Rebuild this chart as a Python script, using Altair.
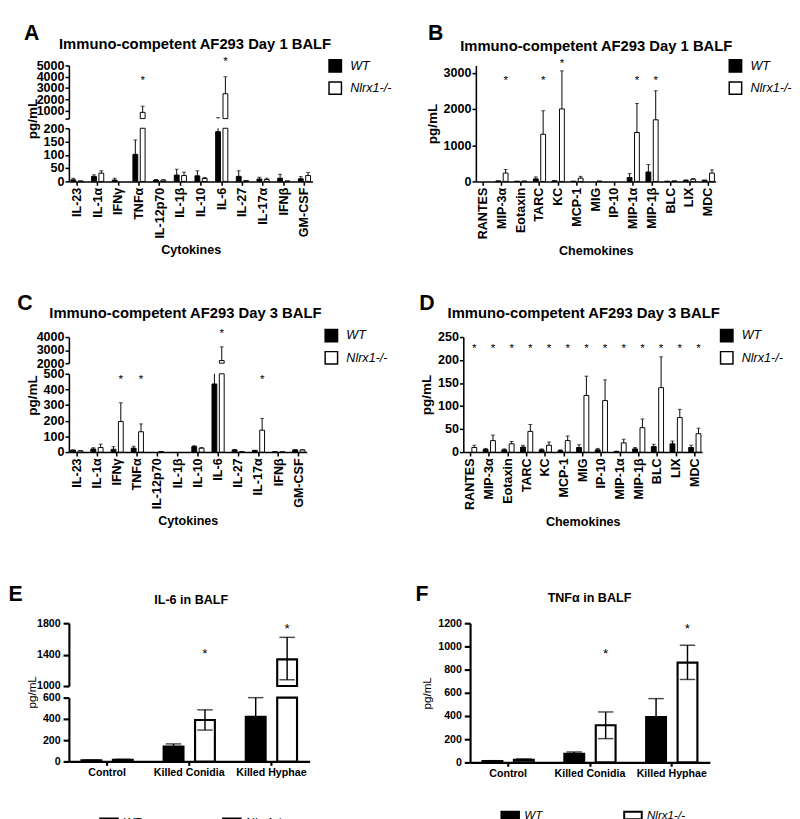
import altair as alt
import pandas as pd

FONT = "Liberation Sans"
GENO = ["WT", "Nlrx1-/-"]

cytokines = ["IL-23", "IL-1α", "IFNγ", "TNFα", "IL-12p70", "IL-1β", "IL-10",
             "IL-6", "IL-27", "IL-17α", "IFNβ", "GM-CSF"]
chemokines = ["RANTES", "MIP-3α", "Eotaxin", "TARC", "KC", "MCP-1", "MIG",
              "IP-10", "MIP-1α", "MIP-1β", "BLC", "LIX", "MDC"]
stimuli = ["Control", "Killed Conidia", "Killed Hyphae"]

# Panel A: day 1 cytokines
a_wt = [6, 19, 5, 102, 5, 24, 21, 187, 19, 9, 12, 10]
a_wt_hi = [12, 25, 12, 156, 7, 46, 40, 380, 40, 16, 27, 18]
a_ko = [2, 31, 0, 850, 5, 22, 11, 2500, 3, 7, 2, 22]
a_ko_hi = [2, 40, 0, 1400, 6, 35, 15, 4000, 3, 12, 2, 34]
a_star_cats = ["TNFα", "IL-6"]
a_star_y = [3700, 5400]

# Panel B: day 1 chemokines
b_wt = [0, 15, 5, 70, 20, 5, 0, 0, 107, 260, 5, 30, 30]
b_wt_hi = [0, 15, 5, 125, 20, 5, 0, 0, 215, 465, 5, 40, 40]
b_ko = [0, 230, 10, 1300, 2000, 90, 10, 0, 1350, 1700, 15, 60, 230]
b_ko_hi = [0, 330, 10, 1950, 3050, 140, 10, 0, 2150, 2500, 15, 80, 320]
b_star_cats = ["MIP-3α", "TARC", "KC", "MIP-1α", "MIP-1β"]
b_star_y = [2800, 2800, 3270, 2800, 2800]

# Panel C: day 3 cytokines
c_wt = [12, 20, 18, 25, 0, 0, 35, 435, 14, 10, 2, 14]
c_wt_hi = [14, 28, 35, 37, 0, 0, 41, 520, 17, 12, 2, 15]
c_ko = [8, 29, 195, 130, 3, 0, 25, 2200, 3, 140, 2, 14]
c_ko_hi = [9, 51, 315, 180, 4, 0, 29, 3250, 4, 215, 2, 15]
c_star_cats = ["IFNγ", "TNFα", "IL-6", "IL-17α"]
c_star_y = [467, 467, 4300, 467]

# Panel D: day 3 chemokines
d_wt = [0, 6, 5, 11, 5, 3, 10, 5, 1, 7, 12, 18, 10]
d_wt_hi = [0, 8, 7, 15, 7, 5, 16, 8, 2, 10, 17, 24, 15]
d_ko = [10, 25, 18, 45, 15, 25, 123, 112, 20, 53, 140, 75, 40]
d_ko_hi = [15, 37, 23, 60, 22, 35, 165, 157, 28, 72, 207, 93, 52]
d_star_cats = chemokines
d_star_y = [225] * 13

# Panel E: IL-6 in BALF (mean, upper and lower error ends)
e_wt = [10, 140, 420]
e_wt_hi = [13, 165, 600]
e_wt_lo = [7, 115, 240]
e_ko = [15, 390, 1340]
e_ko_hi = [20, 485, 1620]
e_ko_lo = [10, 295, 1080]
e_star_cats = ["Killed Conidia", "Killed Hyphae"]
e_star_y = [1400, 1720]

# Panel F: TNFα in BALF
f_wt = [12, 75, 390]
f_wt_hi = [15, 90, 550]
f_wt_lo = [9, 60, 230]
f_ko = [22, 320, 860]
f_ko_hi = [30, 435, 1010]
f_ko_lo = [14, 205, 715]
f_star_cats = ["Killed Conidia", "Killed Hyphae"]
f_star_y = [930, 1150]


def frame(cats, wt, wt_hi, ko, ko_hi, wt_lo=None, ko_lo=None):
    rows = []
    for i, c in enumerate(cats):
        rows.append({"cat": c, "g": "WT", "v": wt[i], "hi": wt_hi[i],
                     "lo": wt_lo[i] if wt_lo else wt[i]})
        rows.append({"cat": c, "g": "Nlrx1-/-", "v": ko[i], "hi": ko_hi[i],
                     "lo": ko_lo[i] if ko_lo else ko[i]})
    return pd.DataFrame(rows)


def star_frame(cats, ys):
    return pd.DataFrame({"cat": cats, "g": ["Nlrx1-/-"] * len(cats), "sy": ys})


BIG = dict(pi=0.38, po=0.08, barw=5, sep=7.6, bsw=1, esw=1, cap=4, locap=False,
           ylab=13, ytitle=14, ytw="bold", xlab=13, xtitle=13, axw=1.6,
           tick=4, lpad=1, angle=-90, star=12, tsize=15.3)
SMALL = dict(pi=0.37, po=0.15, barw=20.5, sep=32.5, bsw=2.2, esw=1.5, cap=16,
             locap=True, ylab=11, ytitle=12, ytw="normal", xlab=11, xtitle=11,
             axw=2.2, tick=6, lpad=3, angle=0, star=14, tsize=13)


def carrier(tx, ty, size, align):
    # an axis used only to hold a text label (panel letter / panel title)
    return alt.Axis(orient="left", domain=False, ticks=False, labels=False,
                    grid=False, titleAngle=0, titleX=tx, titleY=ty,
                    titleAlign=align, titleBaseline="middle", titleFontSize=size,
                    titleFontWeight="bold", titleFont=FONT, titleColor="black",
                    titleLimit=500)


def segment(df, stars, cats, dom, ticks, w, h, st, show_x, legend,
            xtitle=None, ytitle=None, title_y=None, hide_below=None,
            open_top=True, letter=None, ptitle=None):
    xax = None
    if show_x:
        xax = alt.Axis(labelAngle=st["angle"], labelFontSize=st["xlab"],
                       labelFontWeight="bold", tickSize=4,
                       tickWidth=st["axw"], domainWidth=st["axw"],
                       titleFontSize=st["xtitle"], titleFontWeight="bold",
                       labelPadding=2, titlePadding=6)
    X = alt.X("cat:N", title=xtitle,
              scale=alt.Scale(type="band", domain=cats, paddingInner=st["pi"],
                              paddingOuter=st["po"]),
              axis=xax)
    lab = "datum.label"
    if hide_below is not None:
        lab = f"datum.value < {hide_below} ? '' : datum.label"
    yax_kw = dict(values=ticks, format="d", labelExpr=lab, labelOverlap=False,
                  labelFontSize=st["ylab"], labelFontWeight="bold",
                  tickSize=st["tick"], tickWidth=st["axw"],
                  domainWidth=st["axw"], labelPadding=st["lpad"],
                  titleFontSize=st["ytitle"], titleFontWeight=st["ytw"],
                  titlePadding=4)
    if title_y is not None:
        yax_kw["titleY"] = title_y
    yax = alt.Axis(**yax_kw)

    def Y(field, axis=None, title=None, clamp=True):
        return alt.Y(field, type="quantitative", title=title,
                     scale=alt.Scale(domain=dom, clamp=clamp, nice=False,
                                     zero=False),
                     axis=axis)

    fill = alt.Fill("g:N", scale=alt.Scale(domain=GENO, range=["black", "white"]),
                    legend=legend)
    lo_d, hi_d = dom
    layers = []
    for g, off in zip(GENO, [-st["sep"] / 2, st["sep"] / 2]):
        base = alt.Chart(df).transform_filter(alt.datum.g == g)
        if g == "WT":
            bar_y = Y("v", yax, ytitle)
        elif ptitle is not None:
            bar_y = Y("v", carrier(*ptitle[:4]), ptitle[4])
        else:
            bar_y = Y("v")
        layers.append(base.transform_filter(f"datum.v > {lo_d}").transform_calculate(
            base=str(lo_d)).mark_bar(
            width=st["barw"], xOffset=off, stroke="black",
            strokeWidth=st["bsw"]).encode(x=X, y=bar_y, y2="base:Q", fill=fill))
        layers.append(base.transform_filter(
            f"datum.hi > datum.lo && datum.hi > {lo_d} && datum.lo < {hi_d}"
        ).mark_rule(color="black", strokeWidth=st["esw"], xOffset=off).encode(
            x=X, y=Y("lo"), y2="hi:Q"))
        layers.append(base.transform_filter(
            f"datum.hi > datum.v && datum.hi >= {lo_d} && datum.hi <= {hi_d}"
        ).mark_tick(color="black", thickness=st["esw"], size=st["cap"],
                    xOffset=off).encode(x=X, y=Y("hi")))
        if st["locap"]:
            layers.append(base.transform_filter(
                f"datum.lo < datum.v && datum.lo >= {lo_d} && datum.lo <= {hi_d}"
            ).mark_tick(color="black", thickness=st["esw"], size=st["cap"],
                        xOffset=off).encode(x=X, y=Y("lo")))
    if stars is not None:
        cond = f"datum.sy > {lo_d}"
        if not open_top:
            cond += f" && datum.sy <= {hi_d}"
        if letter is not None:
            sy = Y("sy", carrier(*letter[:4]), letter[4], clamp=False)
        else:
            sy = Y("sy", clamp=False)
        layers.append(alt.Chart(stars).transform_filter(cond).mark_text(
            text="*", fontSize=st["star"], font=FONT, baseline="middle",
            color="black", xOffset=st["sep"] / 2).encode(x=X, y=sy))
    return alt.layer(*layers).resolve_scale(y="independent").properties(
        width=w, height=h)


def big_legend(lx, ly):
    return alt.Legend(title=None, orient="none", legendX=lx, legendY=ly,
                      symbolType="square", symbolSize=165,
                      symbolStrokeColor="black", symbolStrokeWidth=1.5,
                      labelFontStyle="italic", labelFontSize=13, labelFont=FONT,
                      labelColor="black", rowPadding=4, labelOffset=8)


def small_legend(lx, ly):
    return alt.Legend(title=None, orient="none", legendX=lx, legendY=ly,
                      direction="horizontal", columns=2, columnPadding=80,
                      symbolType="M-1,-0.42H1V0.42H-1Z", symbolSize=330,
                      symbolStrokeColor="black", symbolStrokeWidth=2,
                      labelFontStyle="italic", labelFontSize=12, labelFont=FONT,
                      labelColor="black", labelOffset=4)


T1 = "Immuno-competent AF293 Day 1 BALF"
T3 = "Immuno-competent AF293 Day 3 BALF"

# ---------- A ----------
dfA = frame(cytokines, a_wt, a_wt_hi, a_ko, a_ko_hi)
sA = star_frame(a_star_cats, a_star_y)
legA = big_legend(268, -7)
A_top = segment(dfA, sA, cytokines, [300, 5000], [300, 1000, 2000, 3000, 4000, 5000],
                252, 55, BIG, False, legA, hide_below=1000,
                letter=(-47, -34, 22, "left", "A"),
                ptitle=(130, -23, BIG["tsize"], "center", T1))
A_bot = segment(dfA, sA, cytokines, [0, 200], [0, 50, 100, 150, 200],
                252, 55, BIG, True, legA, xtitle="Cytokines", ytitle="pg/mL",
                title_y=-10, open_top=False)
A = alt.vconcat(A_top, A_bot, spacing=10, bounds="flush")

# ---------- B ----------
dfB = frame(chemokines, b_wt, b_wt_hi, b_ko, b_ko_hi)
sB = star_frame(b_star_cats, b_star_y)
B = segment(dfB, sB, chemokines, [0, 3200], [0, 1000, 2000, 3000],
            248, 120, BIG, True, big_legend(261, -7), xtitle="Chemokines",
            ytitle="pg/mL", letter=(-50, -34, 22, "left", "B"),
            ptitle=(124, -20.5, BIG["tsize"], "center", T1))

# ---------- C ----------
dfC = frame(cytokines, c_wt, c_wt_hi, c_ko, c_ko_hi)
sC = star_frame(c_star_cats, c_star_y)
legC = big_legend(264, -9)
C_top = segment(dfC, sC, cytokines, [2000, 4000], [2000, 3000, 4000],
                246, 27, BIG, False, legC,
                letter=(-54, -36, 22, "left", "C"),
                ptitle=(120, -25, BIG["tsize"], "center", T3))
C_bot = segment(dfC, sC, cytokines, [0, 500], [0, 100, 200, 300, 400, 500],
                246, 81, BIG, True, legC, xtitle="Cytokines", ytitle="pg/mL",
                title_y=22, open_top=False)
C = alt.vconcat(C_top, C_bot, spacing=11, bounds="flush")

# ---------- D ----------
dfD = frame(chemokines, d_wt, d_wt_hi, d_ko, d_ko_hi)
sD = star_frame(d_star_cats, d_star_y)
D = segment(dfD, sD, chemokines, [0, 250], [0, 50, 100, 150, 200, 250],
            247, 119, BIG, True, big_legend(265, -9), xtitle="Chemokines",
            ytitle="pg/mL", letter=(-46, -36, 22, "left", "D"),
            ptitle=(124, -25, BIG["tsize"], "center", T3))

# ---------- E ----------
dfE = frame(stimuli, e_wt, e_wt_hi, e_ko, e_ko_hi, e_wt_lo, e_ko_lo)
sE = star_frame(e_star_cats, e_star_y)
legE = small_legend(31, 195)
E_top = segment(dfE, sE, stimuli, [1000, 1800], [1000, 1400, 1800],
                249, 65, SMALL, False, legE,
                letter=(-63, -30, 22, "left", "E"),
                ptitle=(126, -24.7, SMALL["tsize"], "center", "IL-6 in BALF"))
E_bot = segment(dfE, sE, stimuli, [0, 600], [0, 200, 400, 600],
                249, 66, SMALL, True, legE, ytitle="pg/mL", title_y=-6,
                open_top=False)
E = alt.vconcat(E_top, E_bot, spacing=12, bounds="flush")

# ---------- F ----------
dfF = frame(stimuli, f_wt, f_wt_hi, f_ko, f_ko_hi, f_wt_lo, f_ko_lo)
sF = star_frame(f_star_cats, f_star_y)
F = segment(dfF, sF, stimuli, [0, 1200], [0, 200, 400, 600, 800, 1000, 1200],
            248, 144, SMALL, True, small_legend(31, 188), ytitle="pg/mL",
            letter=(-57, -30, 22, "left", "F"),
            ptitle=(123, -26.7, SMALL["tsize"], "center", "TNFα in BALF"))


def row(left, right, spacing):
    return alt.hconcat(left, right, spacing=spacing).resolve_scale(
        fill="independent").resolve_legend(fill="independent")


top_rows = alt.vconcat(row(A, B, 35), row(C, D, 32), spacing=35).resolve_scale(
    fill="independent").resolve_legend(fill="independent")
chart = alt.vconcat(top_rows, row(E, F, 109), spacing=57).resolve_scale(
    fill="independent").resolve_legend(fill="independent").properties(
    padding=0).configure(font=FONT).configure_view(stroke=None).configure_axis(
    domainColor="black", tickColor="black", labelColor="black",
    titleColor="black", grid=False, labelFont=FONT, titleFont=FONT)

chart.save("out.html", embed_options={"renderer": "svg", "actions": False})
